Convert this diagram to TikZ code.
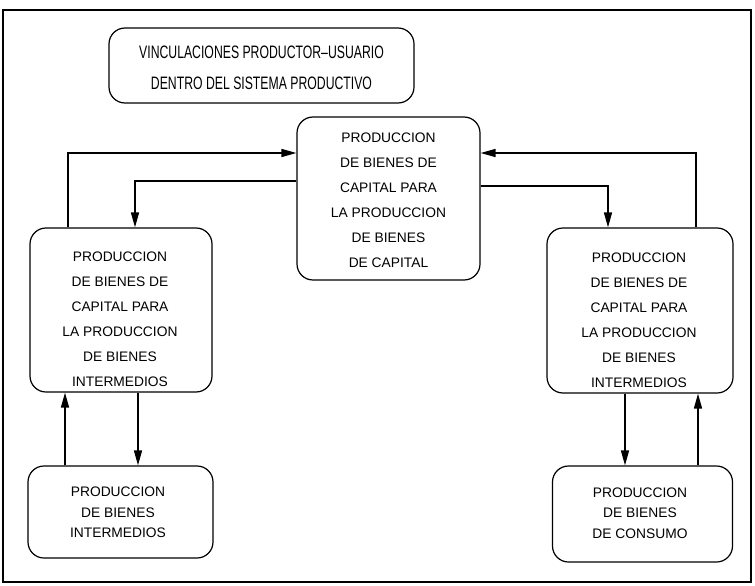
\documentclass[tikz,border=0pt]{standalone}
\usepackage{fontspec}
\setmainfont{Liberation Sans}
\newfontfamily\titlefont[FakeStretch=0.68]{Liberation Sans}
\newfontfamily\boxfont{Liberation Sans}
\usetikzlibrary{arrows.meta}
\begin{document}
\begin{tikzpicture}[x=1pt,y=-1pt,
  box/.style={draw, line width=1.2pt, rounded corners=16pt, inner sep=0pt},
  txt/.style={align=center, font=\boxfont\fontsize{13.8}{25}\selectfont, inner sep=0pt},
  ttl/.style={align=center, font=\titlefont\fontsize{18}{31}\selectfont, inner sep=0pt},
  arr/.style={line width=1.5pt, -{Triangle[length=15pt,width=8pt]}},
  ln/.style={line width=1.5pt}]
\useasboundingbox (0,0) rectangle (755,586);
\draw[line width=1.8pt] (3,10) rectangle (751,582);
% boxes
\node[box, minimum width=305pt, minimum height=75pt] (T) at (261.5,65.5) {};
\node[ttl] (Tt) at (261.5,67.5) {VINCULACIONES PRODUCTOR–USUARIO\\DENTRO DEL SISTEMA PRODUCTIVO};
\node[box, minimum width=183pt, minimum height=163pt] (C) at (388.5,198.5) {};
\node[txt] (Ct) at (388.5,200) {PRODUCCION\\DE BIENES DE\\CAPITAL PARA\\LA PRODUCCION\\DE BIENES\\DE CAPITAL};
\node[box, minimum width=182pt, minimum height=164pt] (L) at (121,310) {};
\node[txt] (Lt) at (120,319) {PRODUCCION\\DE BIENES DE\\CAPITAL PARA\\LA PRODUCCION\\DE BIENES\\INTERMEDIOS};
\node[box, minimum width=186pt, minimum height=165pt] (R) at (640,310.5) {};
\node[txt] (Rt) at (639,320) {PRODUCCION\\DE BIENES DE\\CAPITAL PARA\\LA PRODUCCION\\DE BIENES\\INTERMEDIOS};
\node[box, minimum width=185pt, minimum height=92pt] (BL) at (120.5,512) {};
\node[txt, font=\boxfont\fontsize{13.8}{20.5}\selectfont] (BLt) at (118,512.5) {PRODUCCION\\DE BIENES\\INTERMEDIOS};
\node[box, minimum width=180pt, minimum height=96pt] (BR) at (642.5,514) {};
\node[txt, font=\boxfont\fontsize{13.8}{20.5}\selectfont] (BRt) at (640,513) {PRODUCCION\\DE BIENES\\DE CONSUMO};
% upper connectors
\draw[arr] ([xshift=-53pt]L.north) |- ([yshift=45.5pt]C.west);
\draw[arr] ([yshift=17.5pt]C.west) -| ([xshift=14pt]L.north);
\draw[arr] ([xshift=56pt]R.north) |- ([yshift=45.5pt]C.east);
\draw[arr] ([yshift=12.5pt]C.east) -| ([xshift=-32pt]R.north);
% lower connectors
\coordinate (a1) at ([xshift=-55.5pt]BL.north);
\coordinate (a2) at ([xshift=17pt]L.south);
\coordinate (a3) at ([xshift=-15pt]R.south);
\coordinate (a4) at ([xshift=55.5pt]BR.north);
\draw[arr] (a1) -- (a1 |- L.south);
\draw[arr] (a2) -- (a2 |- BL.north);
\draw[arr] (a3) -- (a3 |- BR.north);
\draw[arr] (a4) -- (a4 |- R.south);
\end{tikzpicture}
\end{document}
